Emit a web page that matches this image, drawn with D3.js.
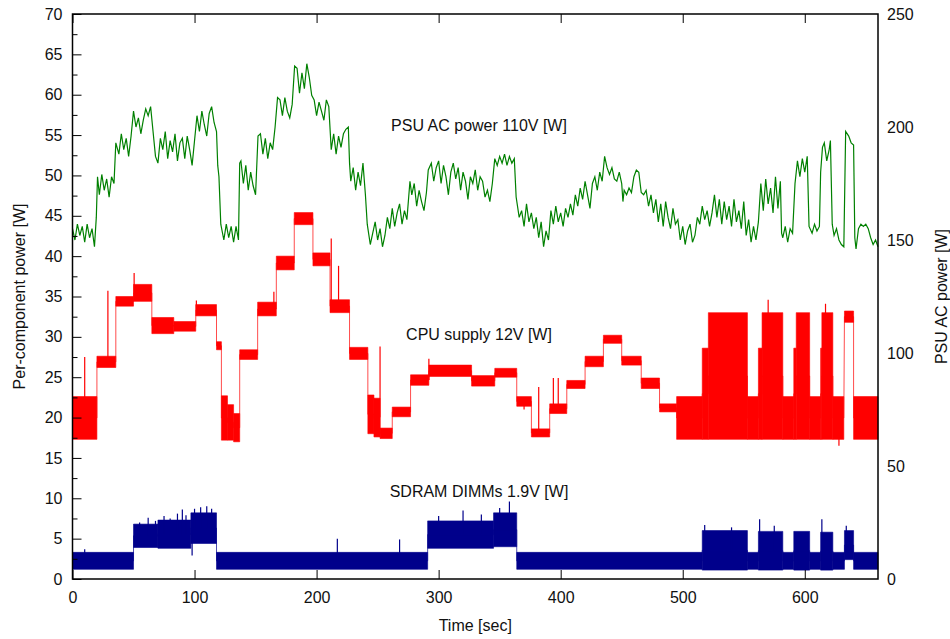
<!DOCTYPE html>
<html>
<head>
<meta charset="utf-8">
<script src="https://cdn.jsdelivr.net/npm/d3@7"></script>
<style>
  body { margin: 0; background: #fff; }
  svg text { font-family: "Liberation Sans", Arial, sans-serif; font-size: 16px; fill: #111; }
</style>
</head>
<body>
<div id="chart"></div>
<script>
// ---------------- data ----------------
// time ticks (sec) and the two power axes (W)
const timeTicks = [0, 100, 200, 300, 400, 500, 600];
const leftTicks = [0, 5, 10, 15, 20, 25, 30, 35, 40, 45, 50, 55, 60, 65, 70];
const rightTicks = [0, 50, 100, 150, 200, 250];

// PSU AC power 110V, [time sec, watts] on the right axis
const psuSamples = [
  [0,155],[2,150],[4,157],[6,152],[8,156],[10,149],[12,157],[14,151],[16,155],[18,147],[19.5,160],
  [20.5,178],[22,170],[24,179],[26,172],[28,177],[30,169],[32,178],[34,175],
  [35.5,193],[38,188],[40,197],[42,190],[44,195],[46,187],[48,196],
  [50,207],[52,200],[54,204],[56,197],[58,203],[60,208],[62,205],[64,209],
  [66,198],[68,187],[70,184],[72,195],[74,190],[76,198],[78,186],[80,194],[82,189],[84,197],[86,185],
  [88,193],[90,195],[92,186],[94,196],[96,190],[98,183],[100,194],
  [102,205],[104,198],[106,207],[108,201],[110,196],[112,206],[114,209],[116,202],
  [118,198],[119,183],[120,178],[121.5,157],
  [124,150],[126,157],[128,151],[130,156],[132,149],[134,156],[136,150],
  [137,184],[138,185],[140,175],[142,183],[144,172],[146,180],[148,174],[150,170],
  [152,196],[154,197],[156,188],[158,195],[160,186],[162,193],[164,190],
  [166,200],[168,213],[170,212],[172,205],[174,213],[176,207],[178,204],[180,210],
  [182,227],[184,226],[186,215],[188,224],[190,217],[192,228],[194,222],
  [196,214],[198,212],[200,205],[202,211],[204,207],[206,203],[208,212],[210,209],
  [212,190],[214,197],[216,188],[218,196],[220,191],[222,197],[224,199],[226,200],
  [227,184],[228,176],[230,182],[232,172],[234,180],[236,174],[238,184],[240,170],
  [241.5,157],[244,148],[246,153],[248,158],[250,150],[252,155],[254,147],[256,152],[258,160],
  [260,155],[262,164],[264,156],[266,162],[268,166],[270,157],[272,163],[274,159],
  [276.5,176],[278,170],[280,175],[282,165],[284,172],[286,167],[288,163],[290,171],
  [291.5,181],[294,184],[296,176],[298,182],[300,185],[302,175],[304,183],[306,178],[308,170],
  [310,180],[312,184],[314,177],[316,182],[318,172],[320,180],[322,176],[324,168],[326,178],
  [328,175],[330,181],[332,172],[334,178],[336,176],[338,169],[340,172],[342,167],[344,175],
  [346,186],[348,183],[350,187],[352,184],[354,188],[356,183],[358,187],[360,184],[362,186],
  [363.5,169],[366,160],[368,163],[370,156],[372,166],[374,158],[376,162],[378,155],
  [380,160],[382,151],[384,158],[386,147],[388,154],[390,150],
  [392,163],[394,157],[396,165],[398,158],[400,162],[402,156],[404,164],[406,160],[408,166],[410,161],
  [412,170],[414,165],[416,173],[418,168],[420,176],[422,170],[424,164],[426,175],
  [428,178],[430,172],[432,180],[434,176],[436,187],[438,182],
  [440,179],[442,182],[444,177],[446,176],[448,180],[450,175],
  [451,167],[452,172],[454,170],[456,173],[458,171],
  [460,178],[462,181],[464,180],
  [466,171],[468,170],[470,172],[472,165],[474,170],
  [476,162],[478,168],[480,158],[482,166],[484,156],[486,167],[488,160],[490,155],[492,164],[494,157],
  [496,159],[498,150],[500,156],[502,148],[504,154],[506,157],[508,149],[510,152],
  [512,160],[514,157],[516,165],[518,159],[520,163],[522,156],[524,162],
  [526,170],[528,160],[530,168],[532,157],[534,167],[536,159],
  [538,165],[540,156],[542,168],[544,158],[546,163],[548,155],[550,167],
  [552,152],[554,159],[556,149],[558,156],[560,150],[562,158],
  [564,175],[566,163],[568,177],[570,166],[572,173],[574,162],[576,178],[578,164],[580,176],
  [581,153],[582,151],[584,156],[586,149],[588,155],[590,153],
  [592,175],[594,185],[596,178],[598,186],[600,180],[602,187],
  [603.5,156],[606,153],[608,157],[610,154],[612,156],
  [613,180],[614.5,191],[616,193],[618,185],[620,190],[621,194],
  [622.5,157],[624,152],[626,155],[628,150],[630,148],[632,147],
  [633.5,198],[636,196],[638,193],[640,192],
  [641,151],[642,146],[644,155],[646,157],[648,156],[650,157],[652,155],[654,151],[656,148],[658,150],[660,147]
];

// CPU supply 12V: noisy bands [from sec, to sec, low W, high W] on the left axis
const cpuSteps = [
  [0,20,17.3,22.6],[20,35.5,26.2,27.6],[35.5,50,33.8,35.0],[50,65,34.4,36.5],
  [65,83,30.4,32.4],[83,101,30.7,31.9],[101,118,32.6,34.0],[118,122,28.4,29.4],
  [122,127,17.2,22.7],[127,132,17.2,21.6],[132,137,17.0,20.5],[137,151.7,27.2,28.4],
  [151.7,167,32.6,34.3],[167,181.7,38.3,40.0],[181.7,197,43.9,45.4],[197,211,38.8,40.4],
  [211,227,33.0,34.6],[227,242,27.2,28.7],[242,247,18.0,22.8],[247,252,17.6,22.4],
  [252,262,17.4,18.7],[262,277,20.1,21.3],[277,292,24.0,25.3],[292,327,25.1,26.5],
  [327,346,23.9,25.2],[346,364,25.0,26.1],[364,376,21.4,22.6],[376,391,17.6,18.6],
  [391,405,20.5,21.7],[405,420,23.6,24.6],[420,435,26.3,27.6],[435,450,29.2,30.2],
  [450,466,26.5,27.6],[466,481,23.6,24.9],[481,495,20.7,21.7],[495,516,17.3,22.6],
  [516,521,17.3,28.6],[521,553,17.3,33.0],[553,562,17.3,22.6],[562,565,17.3,28.6],
  [565,582,17.3,33.0],[582,591,17.3,22.6],[591,593,17.3,28.6],[593,604,17.3,33.0],
  [604,613,17.3,22.6],[613,614,17.3,28.6],[614,623,17.3,33.0],[623,632,17.3,22.6],
  [632.5,640,31.8,33.2],[640,660,17.3,22.6]
];
// single outliers [sec, W]
const cpuSpikes = [
  [10,27.5],[29,35.7],[50.5,37.9],[101.5,34.5],[165,35.6],[212,42.2],[218,38.8],
  [252,28.8],[292,27.3],[370,21.0],[382,23.8],[394,24.9],[398,24.9],[570,34.6],[617,34.1],[628,16.5]
];

// SDRAM DIMMs 1.9V: noisy bands [from sec, to sec, low W, high W]
const dimmSteps = [
  [0,50,1.2,3.3],[50,70,3.9,6.8],[70,97,3.8,7.3],[97,118,4.4,8.2],[118,291,1.2,3.3],
  [291,345,3.8,7.2],[345,364,4.0,8.2],[364,516,1.2,3.3],[516,553,1.1,6.0],[553,562,1.2,3.3],
  [562,582,1.1,5.9],[582,591,1.2,3.3],[591,604,1.1,5.9],[604,613,1.2,3.3],[613,623,1.1,5.8],
  [623,632.5,1.2,3.3],[632.5,640,2.4,6.0],[640,660,1.2,3.3]
];
const dimmSpikes = [
  [10,3.7],[55,7.0],[62,7.6],[68,7.2],[75,7.8],[80,7.5],[86,8.1],[90,8.6],[93,7.9],[98,2.9],
  [100,8.7],[105,8.9],[110,9.0],[114,8.7],[217,5.0],[268,4.9],[300,7.8],[320,8.5],[335,8.0],
  [350,8.8],[358,9.6],[518,6.7],[540,6.4],[563,7.4],[575,6.6],[614,7.4],[634,6.6]
];

// ---------------- drawing ----------------
const width = 950, height = 639;
const plot = { left: 72.5, right: 878, top: 14, bottom: 579 };

const svg = d3.select("#chart").append("svg")
  .attr("width", width)
  .attr("height", height);

const x = d3.scaleLinear().domain([0, 660]).range([plot.left, plot.right]);
const yLeft = d3.scaleLinear().domain([0, 70]).range([plot.bottom, plot.top]);
const yRight = d3.scaleLinear().domain([0, 250]).range([plot.bottom, plot.top]);

//band + connecting line + outliers for one noisy rail
function drawRail(steps, spikes, color) {
  const band = d3.area()
    .x(d => x(d[0]))
    .y0(d => yLeft(d[1]))
    .y1(d => yLeft(d[2]));

  svg.append("g").selectAll("path")
    .data(steps)
    .enter()
    .append("path")
    .attr("d", s => band([[s[0], s[2], s[3]], [s[1], s[2], s[3]]]))
    .style("fill", color)
    .style("stroke", color)
    .style("stroke-width", 0.6);

  // vertical transitions between levels
  const mids = [];
  steps.forEach(s => {
    const m = (s[2] + s[3]) / 2;
    mids.push([s[0], m], [s[1], m]);
  });
  svg.append("path")
    .datum(mids)
    .attr("d", d3.line().x(d => x(d[0])).y(d => yLeft(d[1])))
    .style("fill", "none")
    .style("stroke", color)
    .style("stroke-width", 1)
    .style("opacity", 0.7);

  svg.append("g").selectAll("line")
    .data(spikes)
    .enter()
    .append("line")
    .attr("x1", d => x(d[0]))
    .attr("x2", d => x(d[0]))
    .attr("y1", d => {
      const s = steps.find(s => d[0] >= s[0] && d[0] <= s[1]) || steps[0];
      return yLeft((s[2] + s[3]) / 2);
    })
    .attr("y2", d => yLeft(d[1]))
    .style("stroke", color)
    .style("stroke-width", 1.2);
}

//PSU line on the right axis
svg.append("path")
  .datum(psuSamples)
  .attr("d", d3.line().x(d => x(d[0])).y(d => yRight(d[1])))
  .style("fill", "none")
  .style("stroke", "#008000")
  .style("stroke-width", 1.2);

drawRail(cpuSteps, cpuSpikes, "#ff0000");
drawRail(dimmSteps, dimmSpikes, "#00008b");

//axes, ticks pointing inward
const xAxisBottom = svg.append("g")
  .attr("transform", `translate(0,${plot.bottom})`)
  .call(d3.axisBottom(x).tickValues(timeTicks).tickSize(-9).tickPadding(13));
const xAxisTop = svg.append("g")
  .attr("transform", `translate(0,${plot.top})`)
  .call(d3.axisTop(x).tickValues(timeTicks).tickSize(-9).tickFormat(""));
const yAxisLeft = svg.append("g")
  .attr("transform", `translate(${plot.left},0)`)
  .call(d3.axisLeft(yLeft).tickValues(leftTicks).tickSize(-9).tickPadding(10));
const yAxisMinor = svg.append("g")
  .attr("transform", `translate(${plot.left},0)`)
  .call(d3.axisLeft(yLeft).tickValues(d3.range(2.5, 70, 5)).tickSize(-5).tickFormat(""));
const yAxisRight = svg.append("g")
  .attr("transform", `translate(${plot.right},0)`)
  .call(d3.axisRight(yRight).tickValues(rightTicks).tickSize(0).tickPadding(9));

[xAxisBottom, xAxisTop, yAxisLeft, yAxisMinor, yAxisRight].forEach(g => {
  g.select(".domain").remove();
  g.selectAll("line").style("stroke", "#000");
  g.selectAll("text").style("font-size", "16px").attr("fill", "#111");
});

//frame
svg.append("rect")
  .attr("x", plot.left)
  .attr("y", plot.top)
  .attr("width", plot.right - plot.left)
  .attr("height", plot.bottom - plot.top)
  .style("fill", "none")
  .style("stroke", "#000")
  .style("stroke-width", 1.5);

//axis titles
svg.append("text")
  .attr("x", (plot.left + plot.right) / 2)
  .attr("y", 631)
  .style("text-anchor", "middle")
  .text("Time [sec]");

svg.append("text")
  .attr("transform", `translate(25,${(plot.top + plot.bottom) / 2}) rotate(-90)`)
  .style("text-anchor", "middle")
  .text("Per-component power [W]");

svg.append("text")
  .attr("transform", `translate(947,${(plot.top + plot.bottom) / 2}) rotate(-90)`)
  .style("text-anchor", "middle")
  .text("PSU AC power [W]");

//series labels inside the plot
svg.append("text").attr("x", 479).attr("y", 131).style("text-anchor", "middle").text("PSU AC power 110V [W]");
svg.append("text").attr("x", 479).attr("y", 340).style("text-anchor", "middle").text("CPU supply 12V [W]");
svg.append("text").attr("x", 479).attr("y", 497).style("text-anchor", "middle").text("SDRAM DIMMs 1.9V [W]");
</script>
</body>
</html>
